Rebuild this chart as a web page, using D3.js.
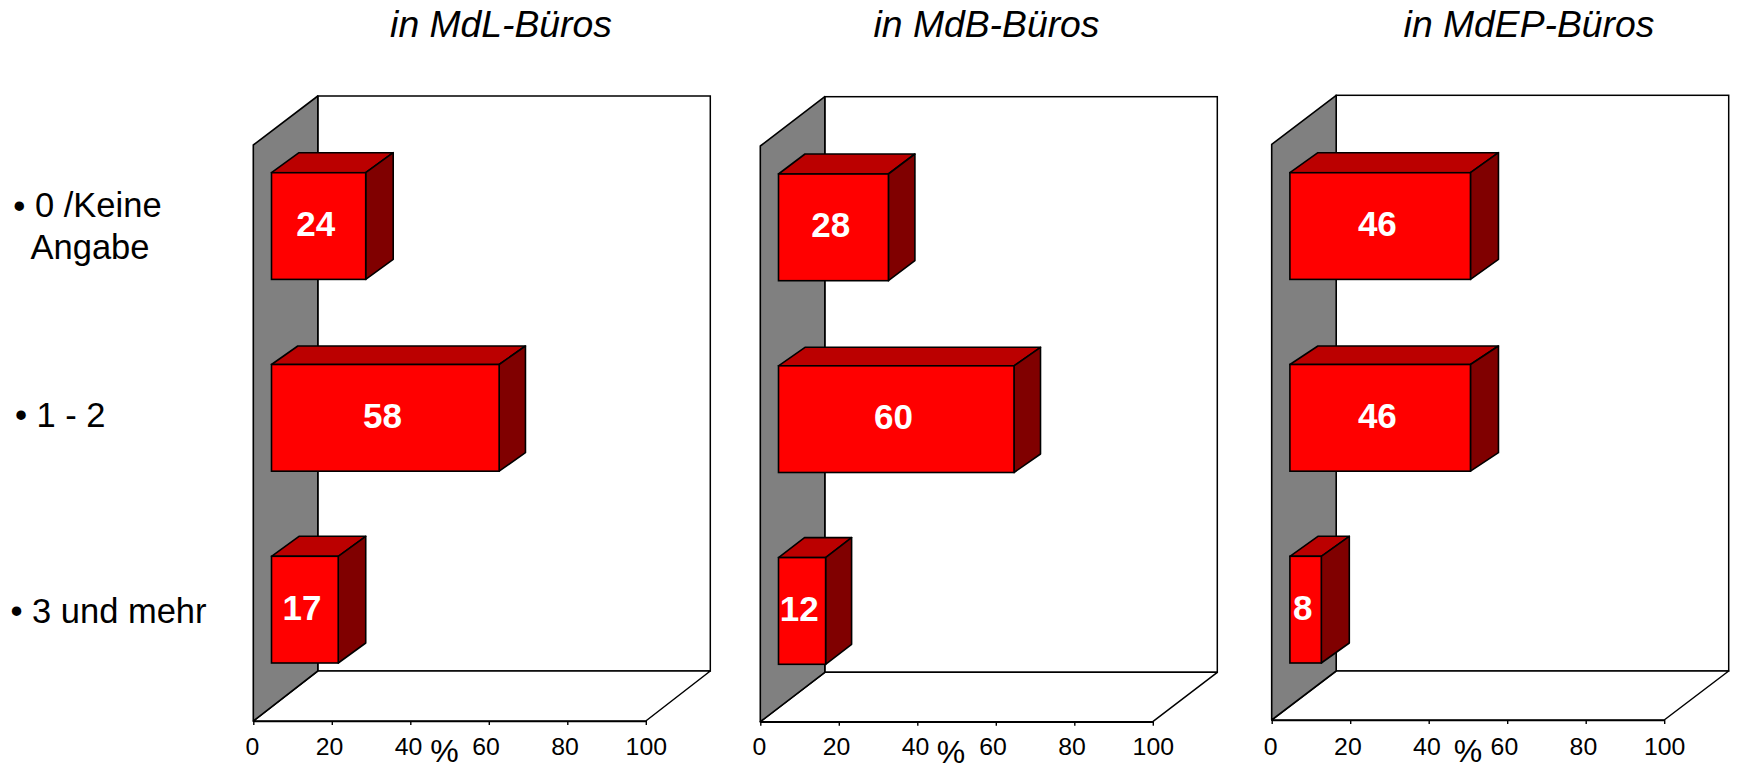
<!DOCTYPE html>
<html><head><meta charset="utf-8">
<script src="https://cdn.jsdelivr.net/npm/d3@7/dist/d3.min.js"></script>
<style>html,body{margin:0;padding:0;background:#fff;overflow:hidden}svg{display:block}text{font-family:"Liberation Sans",Arial,sans-serif;fill:#000}</style>
</head><body><svg id="c" width="1737" height="766"></svg>
<script>
// ---- data ----
const categories = ["0 /Keine Angabe", "1 - 2", "3 und mehr"];
const panelTitles = ["in MdL-Büros", "in MdB-Büros", "in MdEP-Büros"];
const valuesMdL = [24, 58, 17];
const valuesMdB = [28, 60, 12];
const valuesMdEP = [46, 46, 8];
const tickValues = [0, 20, 40, 60, 80, 100];
const axisUnit = "%";

// ---- layout (separate from the data) ----
const W = 1737, H = 766;
const panelValues = [valuesMdL, valuesMdB, valuesMdEP];
const layouts = [
  {x0: 253.3, top: 96,   front: 145,   floor: 671,   axis: 721,   barTop: 172.7, titleX: 501,  pctX: 444.5, pctY: 762},
  {x0: 760.3, top: 96.7, front: 146,   floor: 672.3, axis: 721.7, barTop: 174,   titleX: 986.5, pctX: 951,  pctY: 763},
  {x0: 1271.7,top: 95.3, front: 144.3, floor: 671,   axis: 720,   barTop: 172.7, titleX: 1529, pctX: 1468, pctY: 762}
];
const plotW = 392.5, wallDX = 64.5, barInset = 18.2, barH = 106.7, rowStep = 191.8;
const barDepthX = [[27.5, 26.3, 27.5], [26.5, 26.5, 26], [28, 28, 28]], barDepthY = [20, 18.5, 20];
const tickNudge = [-1.5, -2.8, -2.3, -3.3, -2.8, 0];

const svg = d3.select("#c");
svg.append("rect").attr("width", W).attr("height", H).attr("fill", "#fff");

layouts.forEach((L, p) => {
  const g = svg.append("g");
  const x = d3.scaleLinear().domain([0, 100]).range([L.x0, L.x0 + plotW]);
  const y = d3.scaleBand().domain(categories)
    .range([L.barTop, L.barTop + 2 * rowStep + barH])
    .paddingInner((rowStep - barH) / rowStep).paddingOuter(0);
  const backL = L.x0 + wallDX, backR = L.x0 + plotW + wallDX;
  const line = d3.line();

  // back wall
  g.append("rect").attr("x", backL).attr("y", L.top).attr("width", plotW).attr("height", L.floor - L.top)
    .attr("fill", "#fff").attr("stroke", "#000").attr("stroke-width", 1.5);
  // floor
  g.append("path").attr("d", line([[L.x0, L.axis], [x(100), L.axis], [backR, L.floor], [backL, L.floor]]) + "Z")
    .attr("fill", "#fff").attr("stroke", "#000").attr("stroke-width", 1.5).attr("stroke-linejoin", "round");
  // side wall
  g.append("path").attr("d", line([[L.x0, L.front], [backL, L.top], [backL, L.floor], [L.x0, L.axis]]) + "Z")
    .attr("fill", "#808080").attr("stroke", "#000").attr("stroke-width", 1.6).attr("stroke-linejoin", "round");

  // bars
  const rows = categories.map((c, i) => ({c, i, v: panelValues[p][i]}));
  const bars = g.selectAll("g.bar").data(rows).join("g").attr("class", "bar")
    .attr("transform", d => `translate(${barInset},${y(d.c)})`);
  const sw = d => x(d.v) - x(0);
  bars.append("path").attr("fill", "#bb0000").attr("stroke", "#000").attr("stroke-width", 1.6).attr("stroke-linejoin", "round")
    .attr("d", d => { const a = x(0), b = x(d.v), dx = barDepthX[p][d.i], dy = barDepthY[d.i];
      return line([[a, 0], [b, 0], [b + dx, -dy], [a + dx, -dy]]) + "Z"; });
  bars.append("path").attr("fill", "#800000").attr("stroke", "#000").attr("stroke-width", 1.6).attr("stroke-linejoin", "round")
    .attr("d", d => { const b = x(d.v), dx = barDepthX[p][d.i], dy = barDepthY[d.i];
      return line([[b, 0], [b + dx, -dy], [b + dx, y.bandwidth() - dy], [b, y.bandwidth()]]) + "Z"; });
  bars.append("rect").attr("x", x(0)).attr("y", 0).attr("width", sw).attr("height", y.bandwidth())
    .attr("fill", "#ff0000").attr("stroke", "#000").attr("stroke-width", 1.6);
  bars.append("text").attr("x", d => x(0) + sw(d) / 2 - 2.8).attr("y", y.bandwidth() / 2 + 10)
    .attr("text-anchor", "middle").attr("font-size", 35).attr("font-weight", "bold")
    .style("fill", "#fff").text(d => d.v);

  // axis
  const ax = g.append("g").attr("transform", `translate(0,${L.axis})`)
    .call(d3.axisBottom(x).tickValues(tickValues).tickSize(4).tickSizeOuter(0));
  ax.select(".domain").attr("stroke", "#000").attr("stroke-width", 1.6);
  ax.selectAll(".tick line").attr("stroke", "#000").attr("stroke-width", 1.4);
  ax.selectAll(".tick text").attr("font-size", 24.8).attr("font-family", '"Liberation Sans",Arial,sans-serif')
    .attr("dx", (d, i) => tickNudge[i]).attr("dy", 0).attr("y", 755 - L.axis);
  g.append("text").attr("x", L.pctX).attr("y", L.pctY).attr("text-anchor", "middle").attr("font-size", 32).text(axisUnit);

  // title
  g.append("text").attr("x", L.titleX).attr("y", 37).attr("text-anchor", "middle")
    .attr("font-size", 37.3).attr("font-style", "italic").text(panelTitles[p]);
});

// category labels at the left
const bulletSize = 34.5;
const catLayout = [
  {bx: 19.4, by: 205.7, lines: [["0 /Keine", 35, 217], ["Angabe", 30.5, 259]]},
  {bx: 21, by: 414.3, lines: [["1 - 2", 36.5, 426.7]]},
  {bx: 16.5, by: 610, lines: [["3 und mehr", 32, 622.7]]}
];
const labelLines = [["0 /Keine", "Angabe"], [categories[1]], [categories[2]]];
catLayout.forEach((c, i) => {
  svg.append("text").attr("x", c.bx).attr("y", c.by + 0.365 * bulletSize).attr("text-anchor", "middle")
    .attr("font-size", bulletSize).text("•");
  c.lines.forEach((l, j) => svg.append("text").attr("x", l[1]).attr("y", l[2]).attr("font-size", 34.5).text(labelLines[i][j]));
});
</script></body></html>
